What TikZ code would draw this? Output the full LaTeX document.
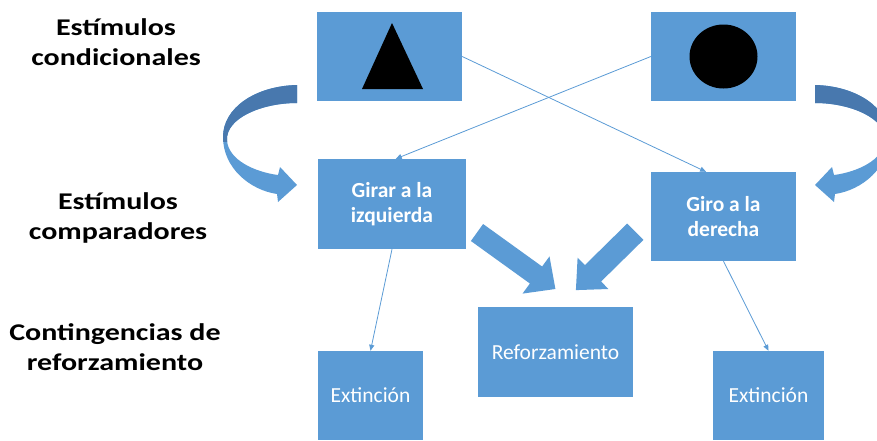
\documentclass[tikz,border=0pt]{standalone}
\usepackage{fontspec}
\setmainfont{Carlito}
\newfontfamily\lblfont{Carlito}[FakeStretch=1.25]
\usetikzlibrary{arrows.meta,calc}
\definecolor{boxblue}{HTML}{5B9BD5}
\definecolor{darkblue}{HTML}{4878AE}
\begin{document}
\begin{tikzpicture}[x=1pt,y=-1pt,
  box/.style={fill=boxblue, draw=none, inner sep=0pt, text=white, align=center,
    font=\fontsize{21.5}{25.5}\selectfont},
  lbl/.style={align=center, font=\lblfont\bfseries\fontsize{24}{30}\selectfont,
    anchor=base, inner sep=0pt},
  conn/.style={draw=boxblue, line width=0.8pt, -{Triangle[length=6pt,width=5pt]}},
  blockarrow/.style={fill=boxblue}
]
\useasboundingbox (0,0) rectangle (877,440);
\clip (0,0) rectangle (877,440);

% left labels (anchored at the baseline of the last line)
\node[lbl] (l1) at (116,65) {Estímulos\\condicionales};
\node[lbl] (l2) at (118,239.3) {Estímulos\\comparadores};
\node[lbl] (l3) at (115,370) {Contingencias de\\reforzamiento};

% boxes
\node[box, minimum width=145, minimum height=89] (tri) at (389.5,56.5) {};
\node[box, minimum width=145, minimum height=89] (circ) at (723.5,56.5) {};
\node[box, font=\bfseries\fontsize{21.5}{25.5}\selectfont, minimum width=148, minimum height=90] (girar) at (392,204) {Girar a la\\izquierda};
\node[box, font=\bfseries\fontsize{21.5}{25.5}\selectfont, minimum width=145, minimum height=89] (giro) at (723.5,216.5) {Giro a la\\derecha};
\node[box, minimum width=155, minimum height=90] (refor) at (555.5,352) {Reforzamiento};
\node[box, minimum width=105, minimum height=89] (ext1) at (370.5,395.5) {Extinción};
\node[box, minimum width=111, minimum height=89] (ext2) at (768.5,395.5) {Extinción};

% shapes inside stimulus boxes
\fill[black] ($(tri.center)+(2.5,-33.5)$) -- ($(tri.center)+(-27.5,32.5)$) -- ($(tri.center)+(33.5,32.5)$) -- cycle;
\fill[black] (circ.center) ellipse [x radius=34, y radius=32];

% thin connectors
\draw[conn] (tri.east) -- ($(giro.north west)!0.38!(giro.north east)$);
\draw[conn] (circ.west) -- ($(girar.north west)!0.525!(girar.north east)$);
\draw[conn] (girar.south) -- (ext1.north);
\draw[conn] (giro.south) -- (ext2.north);

% block arrows to Reforzamiento
\fill[blockarrow] (483.1,224) -- (542.1,266.5) -- (549.5,256.4) -- (555.4,289)
  -- (522.5,293.6) -- (529.9,283.5) -- (470.9,241) -- cycle;
\fill[blockarrow] (627.2,223.5) -- (584.9,265.1) -- (577.6,257.6) -- (575.9,290.1)
  -- (608.4,289) -- (601.1,281.5) -- (643.4,239.9) -- cycle;

% curved arrows (left one, then its mirror image on the right)
\foreach \mx/\sx in {0/1, 1112/-1} {
  \begin{scope}[xshift=\mx pt, xscale=\sx]
    \fill[boxblue] (297,85) .. controls (255,86) and (223,108) .. (223,137)
      .. controls (223,168) and (250,190) .. (277,194)
      -- (278,202) -- (297,185) -- (280,167) -- (278,175)
      .. controls (255,172) and (228,160) .. (227,140)
      .. controls (226,118) and (262,103) .. (297,103) -- cycle;
    \begin{scope}
      \clip (200,60) rectangle (310,141);
      \fill[darkblue] (297,85) .. controls (255,86) and (223,108) .. (223,137)
        .. controls (223,168) and (250,190) .. (277,194)
        -- (278,202) -- (297,185) -- (280,167) -- (278,175)
        .. controls (255,172) and (228,160) .. (227,140)
        .. controls (226,118) and (262,103) .. (297,103) -- cycle;
    \end{scope}
  \end{scope}
}
\end{tikzpicture}
\end{document}
